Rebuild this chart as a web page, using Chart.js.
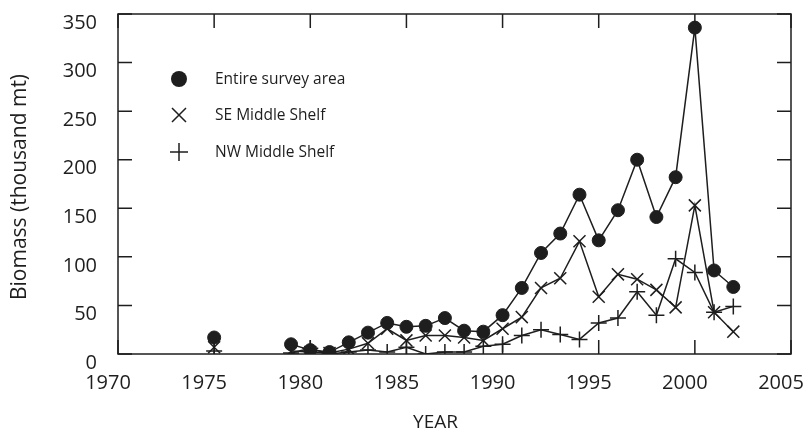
<!DOCTYPE html>
<html>
<head>
<meta charset="utf-8">
<script src="https://cdn.jsdelivr.net/npm/chart.js@4/dist/chart.umd.min.js"></script>
<style>
    body { margin: 0; background: #fff; }
    #wrap { width: 805px; height: 431px; }
</style>
</head>
<body>
<div id="wrap"><canvas id="biomassChart" width="805" height="431"></canvas></div>
<script>
// ===== DATA ===== //
const years = [1975, 1976, 1977, 1978, 1979, 1980, 1981, 1982, 1983, 1984, 1985, 1986, 1987, 1988,
               1989, 1990, 1991, 1992, 1993, 1994, 1995, 1996, 1997, 1998, 1999, 2000, 2001, 2002];
const entireArea = [17, null, null, null, 10, 4, 2, 12, 22, 32, 28, 29, 37, 24,
                    23, 40, 68, 104, 124, 164, 117, 148, 200, 141, 182, 336, 86, 69];
const seMiddleShelf = [7, null, null, null, 3, 2, 1, 5, 11, 26, 14, 19, 19, 17,
                       14, 26, 38, 68, 78, 116, 59, 82, 77, 66, 48, 153, 43, 23];
const nwMiddleShelf = [3, null, null, null, 1, 6, 0, 2, 4, 2, 7, 0, 2, 2,
                       8, 10, 19, 25, 20, 15, 32, 37, 64, 40, 98, 84, 43, 49];
const seriesNames = ['Entire survey area', 'SE Middle Shelf', 'NW Middle Shelf'];
const xTicks = [1970, 1975, 1980, 1985, 1990, 1995, 2000, 2005];
const yTicks = [0, 50, 100, 150, 200, 250, 300, 350];

const INK = '#1e1e1e';
const FONT = '"Open Sans", "Noto Sans", sans-serif';
const toPoints = vals => years.map((yr, i) => ({ x: yr, y: vals[i] }));

// ===== FRAME, INWARD TICKS, TITLES, LEGEND ===== //
const framePlugin = {
    id: 'frame',
    beforeDatasetsDraw(chart) {
        const { ctx, chartArea: a, scales } = chart;
        const len = 14;
        ctx.save();
        ctx.strokeStyle = INK;
        ctx.lineWidth = 1.5;
        ctx.strokeRect(a.left, a.top, a.right - a.left, a.bottom - a.top);
        ctx.beginPath();
        xTicks.forEach(v => {
            const px = scales.x.getPixelForValue(v);
            ctx.moveTo(px, a.bottom); ctx.lineTo(px, a.bottom - len);
            ctx.moveTo(px, a.top); ctx.lineTo(px, a.top + len);
        });
        yTicks.forEach(v => {
            const py = scales.y.getPixelForValue(v);
            ctx.moveTo(a.left, py); ctx.lineTo(a.left + len, py);
            ctx.moveTo(a.right, py); ctx.lineTo(a.right - len, py);
        });
        ctx.stroke();
        ctx.restore();
    },
    afterDraw(chart) {
        const { ctx, chartArea: a } = chart;
        ctx.save();
        ctx.fillStyle = INK;
        ctx.textAlign = 'center';
        ctx.textBaseline = 'middle';
        // axis titles
        ctx.font = '19px ' + FONT;
        ctx.fillText('YEAR', (a.left + a.right) / 2 - 19, 423);
        ctx.translate(20, (a.top + a.bottom) / 2 + 3);
        ctx.rotate(-Math.PI / 2);
        ctx.font = '21px ' + FONT;
        ctx.fillText('Biomass (thousand mt)', 0, 0);
        ctx.restore();

        // legend
        const rows = [79, 115, 152];
        ctx.save();
        ctx.strokeStyle = INK;
        ctx.fillStyle = INK;
        ctx.lineWidth = 1.5;
        const mx = 179;
        ctx.beginPath();
        ctx.arc(mx, rows[0], 8, 0, Math.PI * 2);
        ctx.fill();
        ctx.beginPath();
        ctx.moveTo(mx - 7, rows[1] - 7); ctx.lineTo(mx + 7, rows[1] + 7);
        ctx.moveTo(mx + 7, rows[1] - 7); ctx.lineTo(mx - 7, rows[1] + 7);
        ctx.moveTo(mx - 9, rows[2]); ctx.lineTo(mx + 9, rows[2]);
        ctx.moveTo(mx, rows[2] - 9); ctx.lineTo(mx, rows[2] + 9);
        ctx.stroke();
        ctx.font = '15.5px ' + FONT;
        ctx.textAlign = 'left';
        ctx.textBaseline = 'middle';
        seriesNames.forEach((name, i) => ctx.fillText(name, 215, rows[i] + 1));
        ctx.restore();
    }
};

// ===== CHART ===== //
const ctx = document.getElementById('biomassChart').getContext('2d');
new Chart(ctx, {
    type: 'line',
    data: {
        datasets: [{
            label: seriesNames[0],
            data: toPoints(entireArea),
            borderColor: INK,
            borderWidth: 1.5,
            pointStyle: 'circle',
            pointRadius: 6.5,
            pointBackgroundColor: INK,
            pointBorderColor: INK,
            pointBorderWidth: 1
        }, {
            label: seriesNames[1],
            data: toPoints(seMiddleShelf),
            borderColor: INK,
            borderWidth: 1.5,
            pointStyle: 'crossRot',
            pointRadius: 8.5,
            pointBorderColor: INK,
            pointBorderWidth: 1.5
        }, {
            label: seriesNames[2],
            data: toPoints(nwMiddleShelf),
            borderColor: INK,
            borderWidth: 1.5,
            pointStyle: 'cross',
            pointRadius: 8,
            pointBorderColor: INK,
            pointBorderWidth: 1.5
        }]
    },
    options: {
        responsive: false,
        animation: false,
        spanGaps: false,
        layout: { padding: { top: 14, right: 14, left: 0, bottom: 0 } },
        plugins: {
            legend: { display: false },
            tooltip: { enabled: false }
        },
        elements: { line: { tension: 0 } },
        scales: {
            x: {
                type: 'linear',
                min: 1970,
                max: 2005,
                afterBuildTicks: scale => { scale.ticks = xTicks.map(v => ({ value: v })); },
                afterFit: scale => { scale.height = 77; scale.paddingLeft = 0; scale.paddingRight = 0; },
                grid: { display: false, drawTicks: false },
                border: { display: false },
                ticks: {
                    color: INK,
                    padding: 17,
                    labelOffset: -10,
                    maxRotation: 0,
                    autoSkip: false,
                    font: { family: FONT, size: 20 },
                    callback: v => String(v)
                }
            },
            y: {
                min: 0,
                max: 350,
                afterBuildTicks: scale => { scale.ticks = yTicks.map(v => ({ value: v })); },
                afterFit: scale => { scale.width = 118; scale.paddingTop = 0; scale.paddingBottom = 0; },
                grid: { display: false, drawTicks: false },
                border: { display: false },
                ticks: {
                    color: INK,
                    padding: 21,
                    labelOffset: 9,
                    font: { family: FONT, size: 20 },
                    callback: v => String(v)
                }
            }
        }
    },
    plugins: [framePlugin]
});
</script>
</body>
</html>
